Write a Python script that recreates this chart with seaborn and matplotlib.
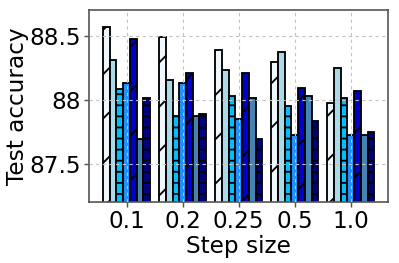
import pandas as pd
import seaborn as sns
import matplotlib.pyplot as plt
import matplotlib.ticker as mticker

# step sizes on the x axis
step_sizes = ['0.1', '0.2', '0.25', '0.5', '1.0']

# test accuracy per method (one list per bar colour)
acc_m1 = [88.57, 88.49, 88.39, 88.29, 87.97]
acc_m2 = [88.31, 88.15, 88.23, 88.37, 88.25]
acc_m3 = [88.08, 87.87, 88.03, 87.95, 88.01]
acc_m4 = [88.13, 88.13, 87.85, 87.72, 87.72]
acc_m5 = [88.47, 88.21, 88.21, 88.09, 88.07]
acc_m6 = [87.69, 87.87, 88.01, 88.03, 87.72]
acc_m7 = [88.01, 87.89, 87.69, 87.83, 87.75]

methods = ['m1', 'm2', 'm3', 'm4', 'm5', 'm6', 'm7']
colors = ['aliceblue', 'lightblue', 'deepskyblue', 'dodgerblue',
          'mediumblue', 'steelblue', 'navy']
hatches = ['/', '', '--', '', '/', '', '--']

rows = []
for m, vals in zip(methods, [acc_m1, acc_m2, acc_m3, acc_m4, acc_m5, acc_m6, acc_m7]):
    for s, v in zip(step_sizes, vals):
        rows.append({'step': s, 'acc': v, 'method': m})
df = pd.DataFrame(rows)

sns.set_style('white')
plt.rcParams['font.family'] = ['DejaVu Sans']
plt.rcParams['hatch.linewidth'] = 1.0
plt.rcParams['text.color'] = 'black'
plt.rcParams['axes.labelcolor'] = 'black'
plt.rcParams['xtick.color'] = 'black'
plt.rcParams['ytick.color'] = 'black'

fig = plt.figure(figsize=(3.0, 263 / 133), dpi=133)
ax = fig.add_axes([0.223, 0.232, 0.749, 0.730])

sns.barplot(data=df, x='step', y='acc', hue='method', palette=colors,
            order=step_sizes, hue_order=methods, width=0.84, gap=0,
            saturation=1, edgecolor='black', linewidth=1.0, legend=False, ax=ax)

# hatches per method
for cont, h in zip(ax.containers, hatches):
    for bar in cont:
        bar.set_hatch(h)

ax.set_ylim(87.2, 88.7)
ax.set_xlim(-0.67, 4.66)
ax.set_yticks([87.5, 88.0, 88.5])
ax.yaxis.set_major_formatter(mticker.FuncFormatter(lambda y, _: f'{y:g}'))

ax.set_axisbelow(False)
ax.grid(True, linestyle=(0, (3, 3)), color='#c4c4c4', linewidth=0.6)

for sp in ax.spines.values():
    sp.set_color('#555555')
    sp.set_linewidth(0.9)

ax.tick_params(axis='both', labelsize=12.5, length=2.5, color='#555555',
               labelcolor='black', direction='out', left=True, bottom=True, pad=2)
ax.set_xlabel('Step size', fontsize=12.5, labelpad=1)
ax.set_ylabel('Test accuracy', fontsize=12.5, labelpad=0)

fig.savefig('out.png', dpi=133)
